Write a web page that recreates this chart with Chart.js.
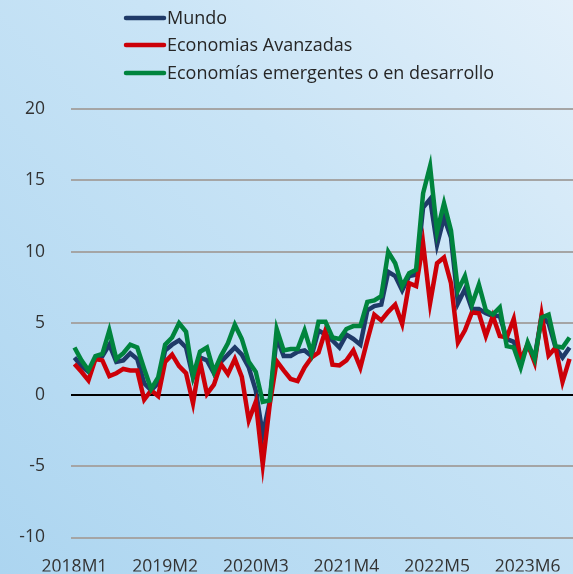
<!DOCTYPE html>
<html><head><meta charset="utf-8">
<script src="https://cdn.jsdelivr.net/npm/chart.js@4/dist/chart.umd.min.js"></script>
<style>
html,body{margin:0;padding:0;width:573px;height:574px;overflow:hidden;}
body{background:linear-gradient(225deg,#e3f0fa 0%,#c9e4f6 38%,#acd5f0 100%);}
#wrap{position:relative;width:573px;height:574px;}
canvas{display:block;}
</style></head><body><div id="wrap"><canvas id="c" width="573" height="574"></canvas></div>
<script>
const categories = [];
for (let y = 2018; y <= 2023; y++) for (let m = 1; m <= 12; m++) categories.push(y + 'M' + m);
const tickLabels = ['2018M1','2019M2','2020M3','2021M4','2022M5','2023M6'];
const seriesNames = ['Mundo','Economias Avanzadas','Economías emergentes o en desarrollo'];

const mundo = [2.6,2.0,1.6,2.5,2.7,3.5,2.3,2.4,2.9,2.5,0.8,0.3,
               0.8,3.1,3.5,3.8,3.3,1.2,2.6,2.4,1.5,2.3,2.8,3.3,
               2.8,1.9,0.3,-2.8,-0.5,4.0,2.7,2.7,3.0,3.1,2.7,4.5,
               4.2,3.8,3.3,4.2,3.9,3.5,5.9,6.2,6.3,8.6,8.3,7.3,
               8.3,8.4,13.1,13.7,10.5,12.4,11.0,6.4,7.4,6.0,6.0,5.7,
               5.5,5.5,3.9,3.7,2.4,3.4,2.6,5.5,5.0,3.3,2.6,3.3];
const avanzadas = [2.15,1.6,1.0,2.5,2.4,1.3,1.5,1.8,1.7,1.7,-0.35,0.3,
                   -0.1,2.3,2.8,2.0,1.5,-0.6,2.35,0.05,0.7,2.15,1.45,2.5,
                   1.25,-1.8,-0.5,-4.9,-0.7,2.35,1.7,1.1,0.95,1.9,2.6,2.95,
                   4.5,2.1,2.05,2.4,3.1,1.9,3.8,5.6,5.2,5.8,6.3,4.95,
                   7.8,7.6,10.6,6.4,9.2,9.6,7.8,3.65,4.5,5.75,5.7,4.1,
                   5.5,4.1,4.0,5.3,2.4,3.55,2.25,5.6,2.75,3.3,0.9,2.5];
const emergentes = [3.3,2.4,1.7,2.7,2.85,4.5,2.5,2.9,3.5,3.3,1.8,0.4,
                    1.2,3.5,4.0,5.0,4.4,1.3,3.0,3.3,1.6,2.7,3.6,4.9,
                    3.9,2.3,1.6,-0.5,-0.4,4.6,3.1,3.2,3.2,4.5,2.9,5.1,
                    5.1,4.0,3.9,4.6,4.8,4.8,6.5,6.6,6.9,10.0,9.2,7.6,
                    8.5,8.75,14.1,16.0,11.4,13.4,11.5,7.3,8.3,6.3,7.7,5.9,
                    5.6,6.1,3.4,3.3,1.9,3.65,2.5,5.4,5.6,3.4,3.3,4.0];
const yMin = -10, yMax = 20, yStep = 5;

const legendPlugin = {
  id: 'customLegend',
  afterDraw(chart) {
    const ctx = chart.ctx;
    const rows = [18, 45, 73];
    chart.data.datasets.forEach((ds, i) => {
      ctx.save();
      ctx.strokeStyle = ds.borderColor;
      ctx.lineWidth = 4.5;
      ctx.lineCap = 'round';
      ctx.beginPath();
      ctx.moveTo(126, rows[i]);
      ctx.lineTo(164, rows[i]);
      ctx.stroke();
      ctx.fillStyle = '#262626';
      ctx.font = '18px "Open Sans"';
      ctx.textBaseline = 'middle';
      ctx.fillText(ds.label, 167, rows[i] + 1);
      ctx.restore();
    });
  }
};

new Chart(document.getElementById('c'), {
  type: 'line',
  data: {
    labels: categories,
    datasets: [
      {label: seriesNames[0], data: mundo, borderColor: '#1f3a68', order: 3},
      {label: seriesNames[1], data: avanzadas, borderColor: '#cc0008', order: 2},
      {label: seriesNames[2], data: emergentes, borderColor: '#00843d', order: 1}
    ]
  },
  options: {
    responsive: false,
    animation: false,
    devicePixelRatio: 1,
    layout: {padding: {top: 109, right: 0, left: 0, bottom: 0}},
    elements: {
      line: {borderWidth: 4.5, tension: 0, fill: false},
      point: {radius: 0, hoverRadius: 0}
    },
    plugins: {legend: {display: false}, tooltip: {enabled: false}},
    scales: {
      x: {
        offset: true,
        grid: {display: true, drawOnChartArea: false, drawTicks: true, tickLength: 19,
               color: 'rgba(0,0,0,0)', tickColor: 'rgba(0,0,0,0)'},
        border: {display: false},
        ticks: {
          autoSkip: false, maxRotation: 0, minRotation: 0, padding: 0,
          color: '#333', font: {family: 'Open Sans', size: 17.5},
          callback: function(v, i) { const l = categories[i]; return tickLabels.includes(l) ? l : ''; }
        },
        afterFit(s) { s.height = 34; }
      },
      y: {
        min: yMin, max: yMax,
        grid: {
          drawTicks: false,
          color: c => c.tick.value === 0 ? '#000000' : '#a5a5a5',
          lineWidth: 2
        },
        border: {display: false},
        ticks: {stepSize: yStep, padding: 26, color: '#333', font: {family: 'Open Sans', size: 17.5}},
        afterFit(s) { s.width = 71; }
      }
    }
  },
  plugins: [legendPlugin]
});
</script></body></html>
